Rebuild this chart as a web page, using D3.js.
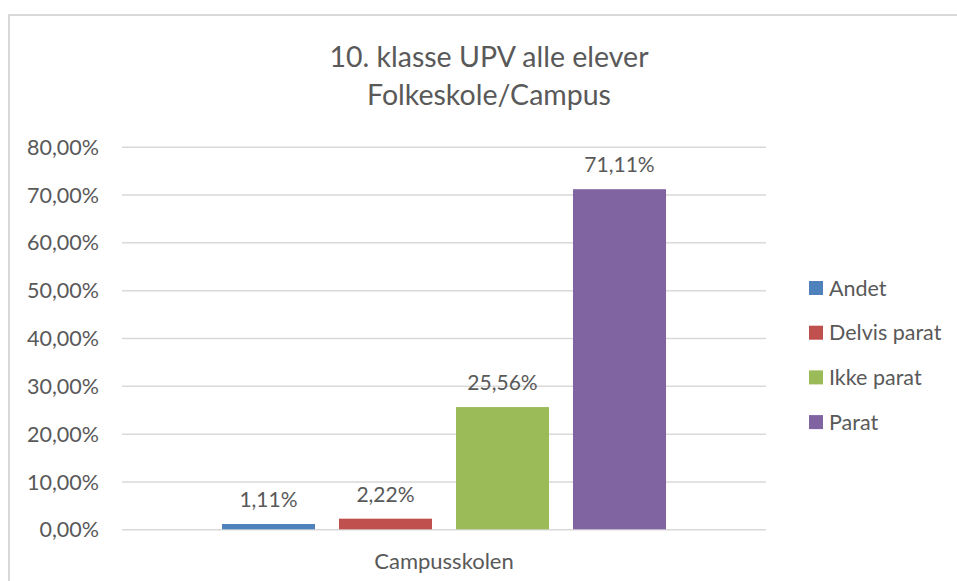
<!DOCTYPE html>
<html>
<head>
<meta charset="utf-8">
<script src="https://cdn.jsdelivr.net/npm/d3@7"></script>
<style>
  html, body { margin: 0; padding: 0; background: #fff; }
  svg { display: block; }
  text { font-family: Lato, "Open Sans", sans-serif; fill: #595959; }
</style>
</head>
<body>
<svg id="chart" width="957" height="581"></svg>
<script>
const titleLines = ["10. klasse UPV alle elever", "Folkeskole/Campus"];
const categories = ["Campusskolen"];
const seriesNames = ["Andet", "Delvis parat", "Ikke parat", "Parat"];
const seriesColors = ["#4F81BD", "#C0504D", "#9BBB59", "#8064A2"];
const seriesValues = [1.11, 2.22, 25.56, 71.11];
const yTicks = [0, 10, 20, 30, 40, 50, 60, 70, 80];

const svg = d3.select("#chart");
const W = 957, H = 581;

// chart border
svg.append("path")
  .attr("d", `M9,${H + 2} L9,15 L${W + 2},15`)
  .attr("fill", "none").attr("stroke", "#D9D9D9").attr("stroke-width", 2);

// title
const title = svg.append("text").attr("text-anchor", "middle")
  .attr("font-size", 28.5);
titleLines.forEach((t, i) => {
  title.append("tspan").attr("x", 489).attr("y", 67 + i * 38).text(t);
});

const plot = { left: 122, right: 766, top: 146.7, bottom: 529.3 };

const y = d3.scaleLinear().domain([0, 80]).range([plot.bottom, plot.top]);
const x0 = d3.scaleBand().domain(categories).range([plot.left, plot.right])
  .paddingInner(0).paddingOuter(0.188);
const x1 = d3.scaleBand().domain(seriesNames).range([0, x0.bandwidth()])
  .paddingInner(0.205).paddingOuter(0.1025);

// gridlines
const yAxis = d3.axisLeft(y).tickValues(yTicks)
  .tickSize(-(plot.right - plot.left))
  .tickFormat(d => d3.format(".2f")(d).replace(".", ",") + "%");
const gy = svg.append("g").attr("transform", `translate(${plot.left},0)`).call(yAxis);
gy.select(".domain").remove();
gy.selectAll(".tick line").attr("stroke", "#D9D9D9").attr("stroke-width", 1.5);
gy.selectAll(".tick text").attr("x", -23).attr("dy", "0.35em")
  .attr("font-size", 21.5).attr("fill", "#595959")
  .style("font-family", "Lato, 'Open Sans', sans-serif");

// bars
const data = seriesNames.map((s, i) => ({ series: s, value: seriesValues[i], color: seriesColors[i], cat: categories[0] }));
const g = svg.append("g");
g.selectAll("rect").data(data).enter().append("rect")
  .attr("x", d => x0(d.cat) + x1(d.series))
  .attr("width", x1.bandwidth())
  .attr("y", d => y(d.value))
  .attr("height", d => y(0) - y(d.value))
  .attr("fill", d => d.color);

// data labels
g.selectAll("text.lbl").data(data).enter().append("text")
  .attr("class", "lbl")
  .attr("text-anchor", "middle")
  .attr("font-size", 21)
  .attr("x", d => x0(d.cat) + x1(d.series) + x1.bandwidth() / 2)
  .attr("y", d => y(d.value) - 17)
  .text(d => d3.format(".2f")(d.value).replace(".", ",") + "%");

// x axis category label
const xAxis = d3.axisBottom(x0).tickSize(0).tickPadding(0);
const gx = svg.append("g").attr("transform", `translate(0,${plot.bottom})`).call(xAxis);
gx.select(".domain").remove();
gx.selectAll(".tick text").attr("y", 40).attr("dy", 0)
  .attr("font-size", 22).attr("fill", "#595959")
  .style("font-family", "Lato, 'Open Sans', sans-serif");

// legend
const leg = svg.append("g").attr("transform", "translate(809,281)");
seriesNames.forEach((s, i) => {
  const row = leg.append("g").attr("transform", `translate(0,${i * 44.7})`);
  row.append("rect").attr("width", 14).attr("height", 14).attr("fill", seriesColors[i]);
  row.append("text").attr("x", 20).attr("y", 7).attr("dy", "0.35em")
    .attr("font-size", 21.5).text(s);
});
</script>
</body>
</html>
